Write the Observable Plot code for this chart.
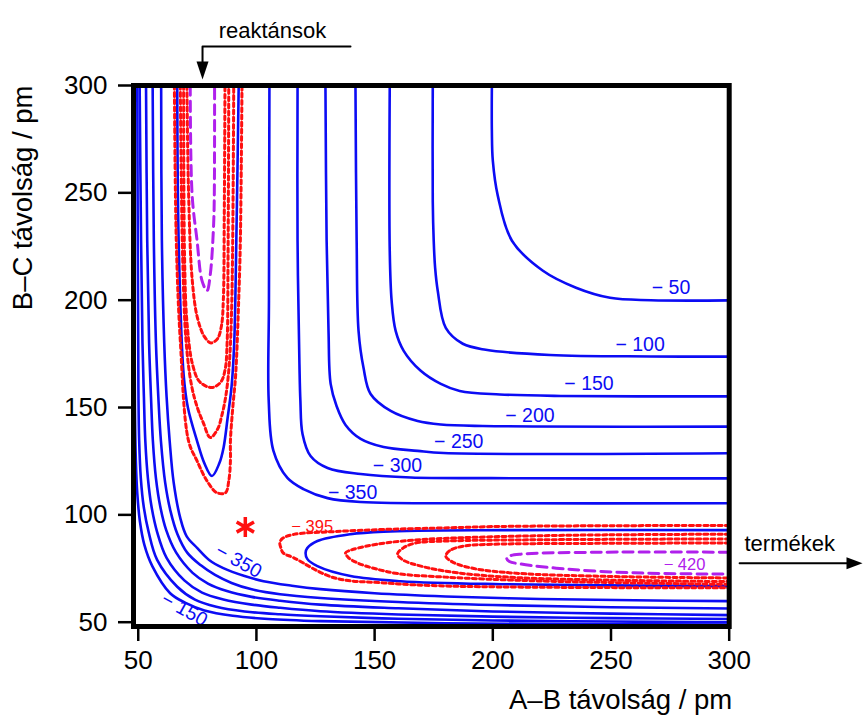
<!DOCTYPE html>
<html><head><meta charset="utf-8">
<script src="https://cdn.jsdelivr.net/npm/d3@7"></script>
<script src="https://cdn.jsdelivr.net/npm/@observablehq/plot@0.6"></script>
<style>body{margin:0;background:#fff}</style>
</head><body><div id="chart"></div>
<script>
// ---- data (pm) ----
const xTicks = [50, 100, 150, 200, 250, 300];
const yTicks = [50, 100, 150, 200, 250, 300];

// outer (upper-right) contours
const outerM50  = [[199.6,300],[199.6,279],[200,265],[202.1,248.7],[208.1,227.7],[221.2,213.7],[235.2,205.8],[249.6,201.1],[266.9,200],[300,199.9]];
const outerM100 = [[174.6,300],[174.6,246],[175,227.7],[175.6,215],[176.7,204.4],[180.1,187.1],[187.3,179.7],[197,176.9],[224.2,174.5],[266.9,173.8],[300,173.7]];
const outerM150 = [[156.4,300],[156.4,223],[157.2,199.7],[158.9,185.7],[162.3,176.4],[169.5,167.1],[178,161],[186,157.7],[203,156.1],[228.8,155.4],[300,155.2]];
const outerM200 = [[141.9,300],[142.4,227.7],[143.2,185.7],[145.3,168.5],[148.3,156.3],[156.8,148.4],[168.2,143.7],[178,142.1],[195.8,141.4],[300,141.1]];
const outerM250 = [[129.2,300],[129.7,227.7],[130.5,185.7],[131.4,161],[133.9,150.7],[137.7,141.9],[144.1,135.4],[153.8,131.6],[168.2,129.8],[179.2,128.8],[300,128.7]];
const outerM300 = [[117.4,300],[117.4,227.7],[118.2,170],[118.6,153.1],[119.5,137.7],[122.9,127.4],[130.1,121.8],[144.1,119],[165.3,117.4],[199.2,117.1],[300,117]];
const outerM350 = [[105.5,300],[105.3,200],[105.2,153.1],[107.2,129.8],[113.1,117.2],[119.9,112],[130.1,107.8],[144.1,106],[199.2,105.4],[300,105.4]];

// inner (lower-left, repulsive wall) contours
const wallM350 = [[59.7,300],[60.0,228],[61,180],[62,155],[63.3,134.4],[65,115],[67.8,98.5],[70.5,90],[75,84.5],[80,79],[86,75.2],[95,71.5],[103,69.1],[115,67],[127.1,65.4],[150,63.5],[180,62],[220,60.8],[260,60.2],[300,59.8]];
const wallM300 = [[56.1,300],[56.6,228],[57.5,180],[58.5,155],[59.6,134.4],[61.4,115],[63.6,102],[66.6,91],[70.8,82.3],[76.5,76.5],[82.5,72],[89.5,68.3],[98,65.3],[110,63],[127.1,61.3],[160,59.4],[200,58],[250,57],[300,56.4]];
const wallM250 = [[53.3,300],[53.8,228],[54.6,180],[55.4,155],[56.2,134.4],[57.5,117],[59.3,104],[61.8,93],[66,82.5],[73,73],[79.5,68],[87.5,64.5],[98,61.8],[110,60],[127,58.2],[160,56.5],[200,55],[250,54],[300,53.3]];
const wallM200 = [[50.6,300],[51.2,228],[51.8,180],[52.4,155],[53.0,134.4],[54.1,117],[55.6,104],[58,92],[62,80],[69.5,69.5],[77,63.8],[86,60.6],[98,58.2],[110,56.7],[127,55.1],[160,53.6],[200,52.6],[250,51.9],[300,51.5]];
const wallM150 = [[49.6,300],[49.8,228],[50.0,180],[50.1,155],[50.4,134.4],[51.1,117],[52.3,104],[54.4,92],[58,79],[66.5,66.5],[74,60.5],[83,57.2],[95,55],[110,53.7],[127,52.8],[160,51.6],[200,50.8],[250,50.3],[300,50.0]];
const wallM100 = [[48.3,300],[48.4,200],[48.6,150],[49.0,125],[49.6,110],[50.7,97],[52.6,86],[56,76],[63.5,63.5],[70,59],[78,55.5],[90,53],[105,51.5],[127,50.5],[180,49.5],[300,48.9]];

// reactant channel (A + BC) closed contours
const reactM395 = [[65.3,300],[66.1,227.7],[67.8,181.1],[71.3,134.4],[74.9,125.1],[79.1,115.8],[83.3,110.3],[86.9,110.3],[88.3,115.8],[89,125.1],[89,134.4],[90,150],[91.2,165],[92.5,200],[93.2,227.7],[93.9,300]];
const reactM400 = [[66.5,300],[67.1,227.7],[69.2,165.5],[71,150],[74.9,134.4],[78,124],[81.2,118.1],[84.3,124],[86.1,131.3],[87.8,145],[89.5,160],[90.6,180],[91.5,227.7],[92.5,300]];
const reactM405 = [[67.8,300],[68.8,220],[70.3,180],[72.6,160],[75,150],[77.5,143],[80.5,136],[83.6,140],[85.3,146],[87,155],[88.5,170],[89.6,200],[90.4,300]];
const reactM410 = [[69.2,300],[69.6,220],[70.6,190],[73,170],[76,162],[81.2,159.3],[85,162],[86.8,168],[87.6,180],[88,220],[88.3,300]];
const reactM415 = [[70.6,300],[71.3,250],[72.8,210],[75,192],[78,183],[80.8,180.1],[83.5,182],[85.2,188],[86,200],[86.4,240],[86.7,300]];
const reactM420 = [[72.0,300],[72.8,249],[74.9,227.7],[77,209],[79.1,204.4],[80.5,212.2],[81.9,235.5],[82.2,251],[82.3,300]];

// product channel (AB + C) closed contours
const prodM395 = [[300,95.1],[203.4,94.6],[182.2,94.0],[153.9,93.2],[132.8,92.2],[115.8,90.9],[111,89],[109.9,87],[110.4,84.5],[111.3,82.3],[115.8,80],[132.8,70.7],[153.9,68.3],[182.2,66.8],[300,66.0]];
const prodM400 = [[300,92.9],[203.4,92.9],[153.8,92.2],[139.8,91],[125.8,87.8],[121.5,84.5],[120.8,82.3],[121.5,79.5],[125.8,76.1],[139.8,71.5],[161,69.1],[203.4,67.7],[300,66.8]];
const prodM405 = [[300,91.0],[240,90.6],[200,89.8],[170,88.5],[155,87.0],[146,85.3],[140,83.6],[137.7,82.3],[139,80.0],[143,77.5],[150,75],[160,72.6],[180,71.0],[220,69.2],[300,67.6]];
const prodM410 = [[300,88.8],[220,88.4],[180,87.8],[167,86.8],[162,84.5],[159.7,81.7],[162,79],[170,76],[185,73],[210,70.8],[250,69.6],[300,68.9]];
const prodM415 = [[300,86.9],[240,86.7],[200,86.3],[188,85.5],[182,83.5],[180.1,80.8],[183,78],[192,75],[210,72.8],[250,71.3],[300,70.6]];
const prodM420 = [[300,82.6],[245.8,82.6],[211.9,81.7],[207,80.8],[205.9,79.7],[207,78.3],[211.9,77.1],[231.8,74.7],[259.7,73.0],[300,72.4]];

// contour labels (text, x, y)
const blueLabelText = ["\u2212 50", "\u2212 100", "\u2212 150", "\u2212 200", "\u2212 250", "\u2212 300", "\u2212 350"];
const blueLabelX = [275.4, 262.3, 240.7, 215.7, 185.6, 159.7, 140.7];
const blueLabelY = [205.6, 179.2, 161.0, 146.1, 134.0, 122.8, 110.2];
const wallLabelText = ["\u2212 350", "\u2212 150"];
const wallLabelX = [92.5, 69.5];
const wallLabelY = [78.5, 55.9];
const redLabel = {text: "\u2212 395", x: 123.6, y: 94.4};
const purpleLabel = {text: "\u2212 420", x: 281.1, y: 76.7};
const saddle = [[95.3, 94.3]];

// annotation arrows (data units, outside the frame)
const reactArrow = [[139.8, 318.2], [77.2, 318.2], [77.2, 309]];
const reactTip = [[77.2, 302.8]];
const prodArrow = [[304.4, 77.5], [350, 77.5]];
const prodTip = [[356.4, 77.5]];

// ---- build tables ----
function rows(list) {
  const out = [];
  list.forEach((pts, i) => pts.forEach(([x, y]) => out.push({x, y, id: i})));
  return out;
}
const blueRows = rows([outerM50, outerM100, outerM150, outerM200, outerM250, outerM300, outerM350,
  wallM350, wallM300, wallM250, wallM200, wallM150, wallM100, reactM400, prodM400]);
const redRows = rows([reactM395, prodM395, reactM405, prodM405, reactM410, prodM410, reactM415, prodM415]);
const purpleRows = rows([reactM420, prodM420]);
const blueLabels = blueLabelText.map((t, i) => ({t, x: blueLabelX[i], y: blueLabelY[i]}));
const wallLabels = wallLabelText.map((t, i) => ({t, x: wallLabelX[i], y: wallLabelY[i]}));

const BLUE = "#0c0cf4", RED = "#ff1010", PURPLE = "#b020ec";

const chart = Plot.plot({
  width: 864, height: 715,
  marginLeft: 133, marginRight: 135.3, marginTop: 85, marginBottom: 89,
  x: {domain: [48, 300]},
  y: {domain: [48, 300]},
  style: {fontFamily: "'Liberation Sans', Arial, sans-serif", background: "white"},
  marks: [
    Plot.line(blueRows, {x: "x", y: "y", z: "id", stroke: BLUE, strokeWidth: 2.6, curve: "catmull-rom", clip: true}),
    Plot.line(redRows, {x: "x", y: "y", z: "id", stroke: RED, strokeWidth: 3, strokeDasharray: "4,3.2", curve: "catmull-rom", clip: true}),
    Plot.line(purpleRows, {x: "x", y: "y", z: "id", stroke: PURPLE, strokeWidth: 3, strokeDasharray: "10,6", curve: "catmull-rom", clip: true}),
    Plot.text(blueLabels, {x: "x", y: "y", text: "t", fill: BLUE, fontSize: 19.5}),
    Plot.text(wallLabels, {x: "x", y: "y", text: "t", fill: BLUE, fontSize: 19.5, rotate: 29}),
    Plot.text([redLabel], {x: "x", y: "y", text: "text", fill: RED, fontSize: 16.5}),
    Plot.text([purpleLabel], {x: "x", y: "y", text: "text", fill: PURPLE, fontSize: 16.5}),
    Plot.dot(saddle, {x: d => d[0], y: d => d[1], symbol: "asterisk", r: 9.5, stroke: RED, strokeWidth: 3.5}),
    Plot.frame({stroke: "black", strokeWidth: 5}),
    Plot.axisX(xTicks, {tickSize: 15, tickPadding: 9, fontSize: 26, strokeWidth: 2.5, label: null}),
    Plot.axisY(yTicks, {tickSize: 15, tickPadding: 11, fontSize: 26, strokeWidth: 2.5, label: null}),
    Plot.text(["A\u2013B távolság / pm"], {frameAnchor: "bottom-right", textAnchor: "end", lineAnchor: "bottom", dx: 3, dy: 82, fontSize: 27.5}),
    Plot.text(["B\u2013C távolság / pm"], {frameAnchor: "top-left", textAnchor: "end", lineAnchor: "bottom", rotate: -90, dx: -102, fontSize: 27.5}),
    Plot.text(["reaktánsok"], {frameAnchor: "top-left", textAnchor: "middle", lineAnchor: "middle", dx: 139, dy: -55, fontSize: 22}),
    Plot.text(["termékek"], {frameAnchor: "top-left", textAnchor: "start", lineAnchor: "middle", dx: 611, dy: 458, fontSize: 22}),
    Plot.line(reactArrow, {x: d => d[0], y: d => d[1], stroke: "black", strokeWidth: 2}),
    Plot.line(prodArrow, {x: d => d[0], y: d => d[1], stroke: "black", strokeWidth: 2}),
    Plot.vector(reactTip, {x: d => d[0], y: d => d[1], shape: "spike", length: 18, r: 6, rotate: 180, anchor: "end", fill: "black", stroke: "none"}),
    Plot.vector(prodTip, {x: d => d[0], y: d => d[1], shape: "spike", length: 16, r: 6, rotate: 90, anchor: "end", fill: "black", stroke: "none"})
  ]
});
document.getElementById("chart").appendChild(chart);
</script></body></html>
